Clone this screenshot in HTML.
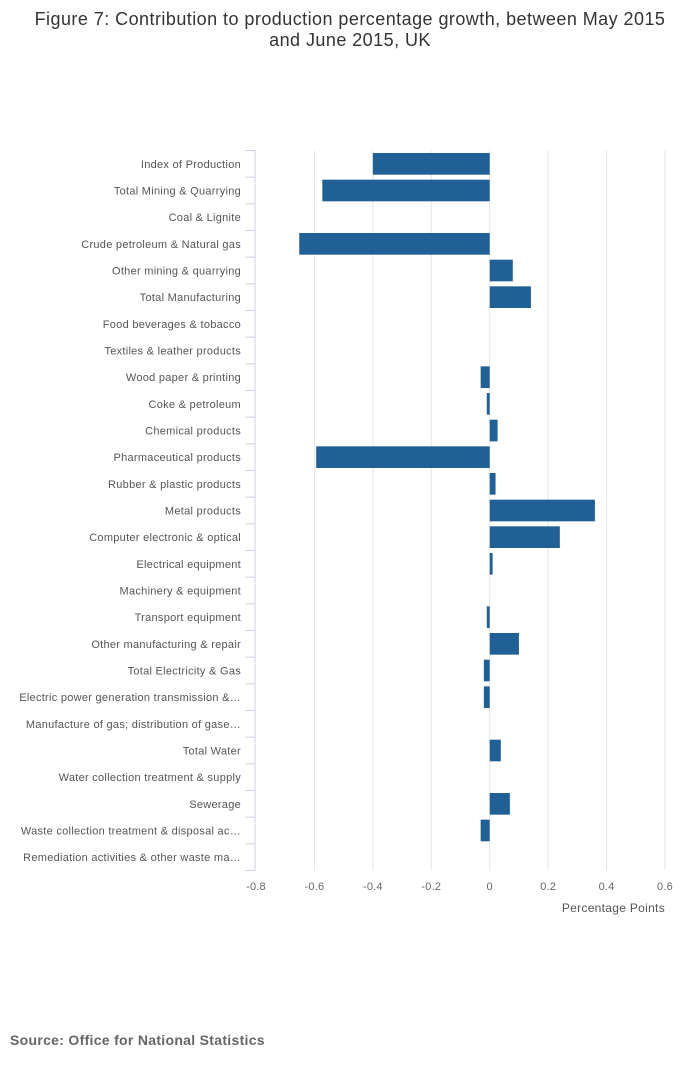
<!DOCTYPE html>
<html><head><meta charset="utf-8"><style>
body{margin:0;background:#fff;font-family:"Liberation Sans",sans-serif;}
</style></head><body>
<svg width="700" height="1067" style="display:block">
<text x="350" y="25" text-anchor="middle" font-size="18" fill="#333" letter-spacing="0.45">Figure 7: Contribution to production percentage growth, between May 2015</text>
<text x="350" y="46" text-anchor="middle" font-size="18" fill="#333" letter-spacing="0.45">and June 2015, UK</text>
<g id="plot"></g>
<text x="665" y="912" text-anchor="end" font-size="12" fill="#555" letter-spacing="0.3">Percentage Points</text>
<text x="10" y="1045" font-size="14" font-weight="bold" fill="#666" letter-spacing="0.3">Source: Office for National Statistics</text>
</svg>
<script>
const categories=["Index of Production","Total Mining & Quarrying","Coal & Lignite","Crude petroleum & Natural gas","Other mining & quarrying","Total Manufacturing","Food beverages & tobacco","Textiles & leather products","Wood paper & printing","Coke & petroleum","Chemical products","Pharmaceutical products","Rubber & plastic products","Metal products","Computer electronic & optical","Electrical equipment","Machinery & equipment","Transport equipment","Other manufacturing & repair","Total Electricity & Gas","Electric power generation transmission &…","Manufacture of gas; distribution of gase…","Total Water","Water collection treatment & supply","Sewerage","Waste collection treatment & disposal ac…","Remediation activities & other waste ma…"];
const values=[-0.40,-0.573,0,-0.652,0.079,0.141,0,0,-0.031,-0.01,0.027,-0.594,0.02,0.36,0.24,0.01,0,-0.01,0.10,-0.02,-0.02,0,0.038,0,0.069,-0.031,0];
const ticks=[-0.8,-0.6,-0.4,-0.2,0,0.2,0.4,0.6];
const tickLabels=["-0.8","-0.6","-0.4","-0.2","0","0.2","0.4","0.6"];
const NS="http://www.w3.org/2000/svg";
const g=document.getElementById('plot');
const x0=256,x1=665,vmin=-0.8,vmax=0.6,plotTop=150.5,plotBottom=870.5;
const band=(plotBottom-plotTop)/categories.length;
const xs=v=>x0+(v-vmin)/(vmax-vmin)*(x1-x0);
function mk(t,a){const e=document.createElementNS(NS,t);for(const k in a)e.setAttribute(k,a[k]);g.appendChild(e);return e;}
ticks.forEach((t,i)=>{
 if(i>0){const l=mk('line',{x1:xs(t),x2:xs(t),y1:plotTop,y2:plotBottom,stroke:'#e6e6e6'});
 
 }
 const tx=mk('text',{x:xs(t),y:890,'text-anchor':'middle','font-size':11,fill:'#666','letter-spacing':0.2});
 tx.textContent=tickLabels[i];
 
 
});
const ax=mk('line',{x1:255,x2:255,y1:plotTop,y2:plotBottom,stroke:'#ccd0e0'});


categories.forEach((c,i)=>{
 const y=plotTop+i*band;
 const tk=mk('line',{x1:245,x2:255,y1:y,y2:y,stroke:'#ccd0e0'});
 
 
 const lb=mk('text',{x:241,y:y+band/2+4,'text-anchor':'end','font-size':11,fill:'#555','letter-spacing':0.28});
 lb.textContent=c;
 
 
 const v=values[i];
 const a=xs(Math.min(0,v)),b=xs(Math.max(0,v));
 const r=mk('rect',{x:a,y:y+2.5,width:Math.max(0,b-a),height:band-5,fill:'#206095'});
 
 
});
const lt=mk('line',{x1:245,x2:255,y1:plotBottom,y2:plotBottom,stroke:'#ccd0e0'});


</script>
</body></html>
